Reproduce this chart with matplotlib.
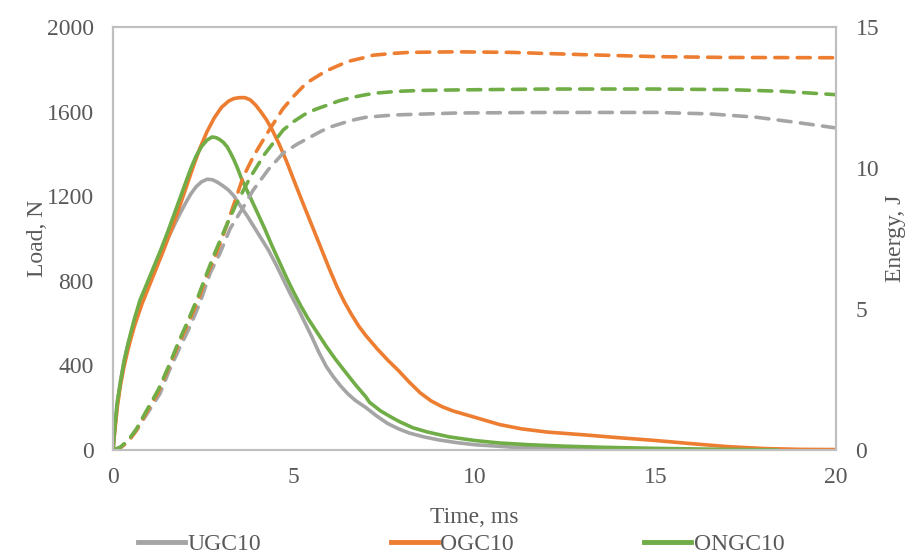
import matplotlib
matplotlib.use("Agg")
import matplotlib.pyplot as plt
from matplotlib.lines import Line2D

plt.rcParams['font.family'] = ['Liberation Serif', 'DejaVu Serif']

# ---- data ----
series_names = ["UGC10", "OGC10", "ONGC10"]
colors = ["#A5A5A5", "#ED7D31", "#70AD47"]

t_load_ugc = [0, 0.05, 0.12, 0.2, 0.3, 0.4, 0.5, 0.6, 0.8, 1.0, 1.2, 1.4, 1.6, 1.8, 2.0, 2.15, 2.3, 2.45, 2.6,
              2.75, 2.9, 3.05, 3.2, 3.35, 3.5, 3.7, 3.9, 4.1, 4.3, 4.5, 4.7, 4.9, 5.1, 5.3, 5.5, 5.7, 5.9, 6.1,
              6.3, 6.5, 6.7, 7.0, 7.3, 7.6, 7.9, 8.2, 8.6, 9.0, 9.5, 10, 11, 12, 13, 14, 15, 16, 17, 18]
load_ugc = [0, 100, 220, 320, 415, 490, 550, 610, 715, 800, 880, 960, 1030, 1100, 1165, 1210, 1245, 1268, 1280,
            1278, 1265, 1248, 1228, 1200, 1160, 1110, 1055, 1000, 945, 880, 810, 740, 675, 605, 535, 460, 395, 345,
            302, 265, 235, 200, 160, 125, 100, 80, 62, 48, 35, 25, 14, 8, 5, 3, 2, 1, 0, 0]

t_load_ogc = [0, 0.05, 0.12, 0.2, 0.3, 0.4, 0.5, 0.6, 0.8, 1.0, 1.2, 1.4, 1.6, 1.8, 2.0, 2.2, 2.4, 2.6, 2.8, 3.0,
              3.2, 3.35, 3.5, 3.65, 3.8, 3.95, 4.1, 4.25, 4.4, 4.6, 4.8, 5.0, 5.2, 5.4, 5.6, 5.8, 6.0, 6.2, 6.4,
              6.6, 6.8, 7.0, 7.3, 7.6, 7.9, 8.2, 8.5, 8.8, 9.1, 9.4, 9.8, 10.2, 10.7, 11.3, 12, 13, 14, 15, 16,
              17, 18, 19, 20]
load_ogc = [0, 90, 205, 300, 390, 465, 530, 590, 690, 775, 860, 945, 1035, 1130, 1230, 1330, 1425, 1505, 1570,
            1620, 1650, 1662, 1666, 1666, 1655, 1630, 1597, 1560, 1515, 1445, 1365, 1277, 1190, 1105, 1020, 935,
            850, 770, 700, 640, 585, 540, 480, 425, 375, 320, 270, 232, 205, 185, 165, 145, 120, 100, 85, 72, 58,
            45, 30, 16, 7, 3, 2]

t_load_ongc = [0, 0.05, 0.12, 0.23, 0.32, 0.42, 0.5, 0.6, 0.75, 0.97, 1.15, 1.33, 1.5, 1.66, 1.83, 2.0, 2.15,
               2.3, 2.45, 2.6, 2.74, 2.85, 2.95, 3.05, 3.16, 3.25, 3.35, 3.45, 3.55, 3.7, 3.85, 4.0, 4.2, 4.4, 4.6,
               4.8, 5.0, 5.2, 5.4, 5.65, 5.9, 6.15, 6.4, 6.7, 7.0, 7.1, 7.4, 7.7, 7.95, 8.3, 8.7, 9.3, 10, 10.7,
               11.5, 12.5, 13.5, 14.9, 16.5, 18.4]
load_ongc = [0, 110, 230, 345, 430, 505, 560, 625, 710, 800, 875, 950, 1025, 1100, 1180, 1260, 1330, 1390, 1435,
             1465, 1480, 1477, 1468, 1455, 1433, 1405, 1370, 1330, 1285, 1230, 1175, 1120, 1045, 965, 890, 815, 745,
             680, 620, 555, 490, 430, 375, 310, 250, 225, 185, 155, 132, 105, 85, 62, 45, 33, 25, 18, 13, 8, 4, 0]

t_en_ugc = [0, 0.2, 0.42, 0.65, 0.9, 1.3, 1.55, 1.8, 2.1, 2.4, 2.69, 2.96, 3.24, 3.6, 3.88, 4.3, 4.71, 5.1, 5.46,
            5.75, 6.0, 6.37, 6.7, 7.0, 7.76, 9.5, 12, 15, 16.5, 17.8, 19, 20]
en_ugc = [0, 0.08, 0.3, 0.7, 1.2, 2.0, 2.8, 3.5, 4.3, 5.2, 6.28, 6.98, 7.85, 8.6, 9.22, 9.95, 10.53, 10.85, 11.1,
          11.3, 11.45, 11.6, 11.72, 11.8, 11.88, 11.95, 11.97, 11.97, 11.92, 11.8, 11.6, 11.42]

t_en_ogc = [0, 0.2, 0.42, 0.65, 0.89, 1.25, 1.55, 1.8, 2.08, 2.35, 2.63, 2.85, 3.1, 3.38, 3.6, 3.9, 4.27, 4.5,
            4.7, 5.0, 5.25, 5.46, 5.75, 6.0, 6.3, 6.57, 6.9, 7.2, 7.7, 8.2, 9.5, 11, 13, 15, 17, 20]
en_ogc = [0, 0.08, 0.3, 0.7, 1.25, 2.05, 2.95, 3.7, 4.5, 5.3, 6.3, 6.95, 7.8, 8.85, 9.68, 10.45, 11.24, 11.7,
          12.1, 12.55, 12.88, 13.1, 13.33, 13.5, 13.67, 13.8, 13.9, 14.0, 14.06, 14.1, 14.12, 14.1, 14.02, 13.95,
          13.92, 13.91]

t_en_ongc = [0, 0.2, 0.42, 0.65, 0.89, 1.25, 1.55, 1.8, 2.08, 2.35, 2.63, 2.82, 3.1, 3.4, 3.8, 4.2, 4.71, 5.0,
             5.3, 5.6, 5.93, 6.25, 6.6, 7.0, 7.3, 7.9, 8.5, 9.6, 12, 15, 17, 18.5, 20]
en_ongc = [0, 0.1, 0.35, 0.75, 1.31, 2.13, 3.0, 3.79, 4.6, 5.43, 6.38, 7.0, 7.85, 8.7, 9.68, 10.5, 11.35, 11.65,
           11.9, 12.08, 12.23, 12.38, 12.5, 12.6, 12.66, 12.72, 12.75, 12.77, 12.8, 12.8, 12.78, 12.72, 12.6]

load_t = [t_load_ugc, t_load_ogc, t_load_ongc]
load_v = [load_ugc, load_ogc, load_ongc]
en_t = [t_en_ugc, t_en_ogc, t_en_ongc]
en_v = [en_ugc, en_ogc, en_ongc]

x_ticks = [0, 5, 10, 15, 20]
load_ticks = [0, 400, 800, 1200, 1600, 2000]
energy_ticks = [0, 5, 10, 15]

# ---- figure ----
fig = plt.figure(figsize=(9.07, 5.54), dpi=100)
ax = fig.add_axes([113 / 907, 1 - 450 / 554, (836 - 113) / 907, (450 - 27) / 554])
ax2 = ax.twinx()

lw = 2.6
for tt, vv, c in zip(load_t, load_v, colors):
    ax.plot(tt, vv, color=c, lw=lw, solid_capstyle='round', solid_joinstyle='round')
for tt, vv, c in zip(en_t, en_v, colors):
    ax2.plot(tt, vv, color=c, lw=lw, dashes=(3.6, 2.6), dash_capstyle='round', dash_joinstyle='round')

ax.set_xlim(0, 20)
ax.set_ylim(0, 2000)
ax2.set_ylim(0, 15)
ax.set_xticks(x_ticks)
ax.set_yticks(load_ticks)
ax2.set_yticks(energy_ticks)

tc = "#595959"
fs = 17
for a in (ax, ax2):
    for s in a.spines.values():
        s.set_color("#BFBFBF")
        s.set_linewidth(1.5)
    a.tick_params(length=0, labelsize=fs, colors=tc)
ax.tick_params(axis='x', pad=12)
ax.tick_params(axis='y', pad=14)
ax2.tick_params(axis='y', pad=14)

ax.set_xlabel("Time, ms", fontsize=fs, color=tc, labelpad=14)
ax.set_ylabel("Load, N", fontsize=fs, color=tc, labelpad=-1)
ax2.set_ylabel("Energy, J", fontsize=fs, color=tc, labelpad=4, rotation=90)

handles = [Line2D([0], [0], color=c, lw=3.5) for c in colors]
leg = fig.legend(handles, series_names, loc='center', bbox_to_anchor=(461 / 907, 1 - 544 / 554), ncol=3,
                 frameon=False, fontsize=fs, handlelength=2.0, handletextpad=0.1, columnspacing=5.5,
                 labelcolor=tc, borderaxespad=0)

fig.savefig("out.png", dpi=100)
